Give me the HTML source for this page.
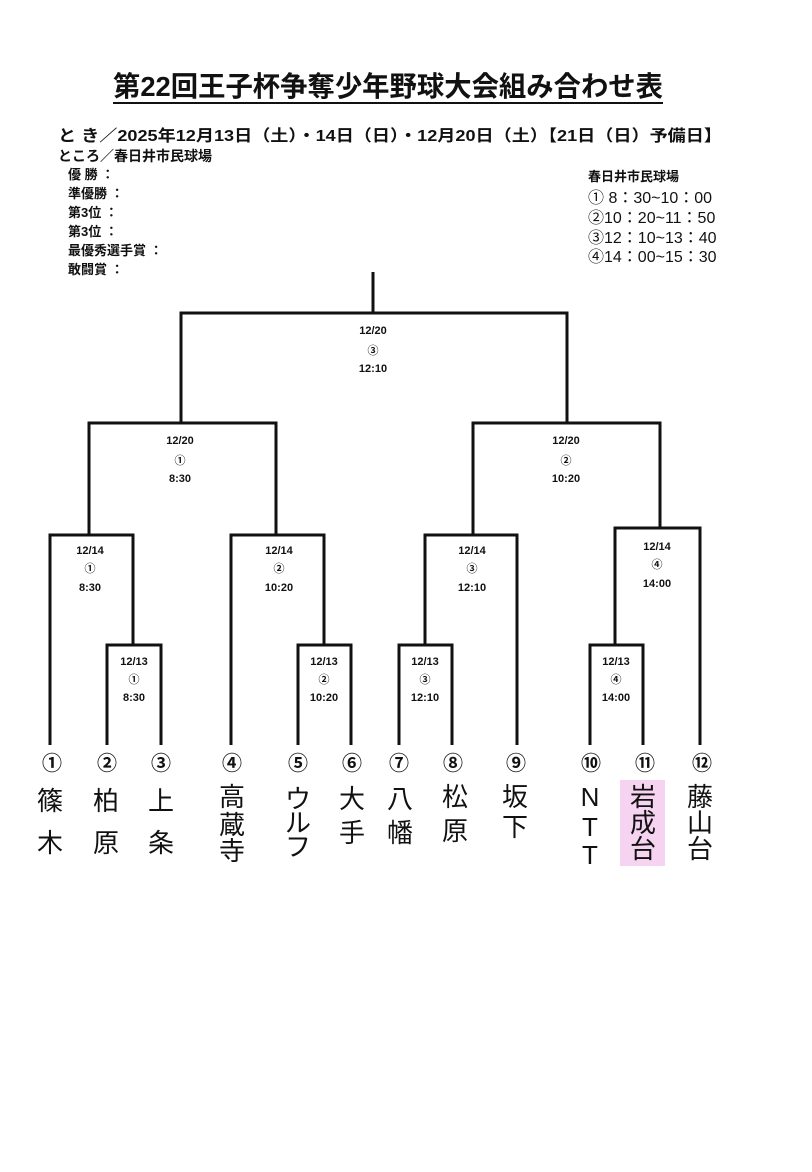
<!DOCTYPE html>
<html><head><meta charset="utf-8"><style>
html,body{margin:0;padding:0;background:#fff;}
svg{display:block}
text{font-family:"Liberation Sans","Noto Sans CJK JP",sans-serif;fill:#111}
.t{font-size:11px;font-weight:bold;text-anchor:middle}
.h{font-family:"Noto Sans CJK JP",sans-serif;font-size:26px;text-anchor:middle;fill:#333}
.n{font-size:20px;text-anchor:middle;font-weight:bold}
</style></head><body>
<svg width="812" height="1172" viewBox="0 0 812 1172" xmlns="http://www.w3.org/2000/svg">
<text x="388" y="96" font-size="28" text-anchor="middle" font-weight="bold" textLength="550" lengthAdjust="spacingAndGlyphs">第22回王子杯争奪少年野球大会組み合わせ表</text>
<line x1="113" y1="103" x2="663" y2="103" stroke="#111" stroke-width="2"/>
<text x="58" y="141" font-size="16" font-weight="bold" textLength="664" lengthAdjust="spacingAndGlyphs">と き／2025年12月13日（土）・14日（日）・12月20日（土）【21日（日）予備日】</text>
<text x="58" y="161" font-size="14" font-weight="bold">ところ／春日井市民球場</text>
<g font-size="13" font-weight="bold">
<text x="68" y="179">優 勝 ：</text>
<text x="68" y="198">準優勝 ：</text>
<text x="68" y="217">第3位 ：</text>
<text x="68" y="236">第3位 ：</text>
<text x="68" y="255">最優秀選手賞 ：</text>
<text x="68" y="274">敢闘賞 ：</text>
<text x="588" y="181">春日井市民球場</text>
</g>
<g font-size="16">
<text x="588" y="203">① 8：30~10：00</text>
<text x="588" y="223">②10：20~11：50</text>
<text x="588" y="243">③12：10~13：40</text>
<text x="588" y="262">④14：00~15：30</text>
</g>
<g stroke="#111" stroke-width="3" fill="none">
<path d="M373 272V313M181 423V313H567V423"/>
<path d="M89 535V423H276V535M473 535V423H660V528"/>
<path d="M50 745V535H133V645M107 745V645H161V745"/>
<path d="M231 745V535H324V645M298 745V645H351V745"/>
<path d="M425 645V535H517V745M399 745V645H452V745"/>
<path d="M615 645V528H700V745M590 745V645H643V745"/>
</g>
<g class="t">
<text x="373" y="334">12/20</text><text x="373" y="354">③</text><text x="373" y="372">12:10</text>
<text x="180" y="444">12/20</text><text x="180" y="464">①</text><text x="180" y="482">8:30</text>
<text x="566" y="444">12/20</text><text x="566" y="464">②</text><text x="566" y="482">10:20</text>
<text x="90" y="554">12/14</text><text x="90" y="572">①</text><text x="90" y="591">8:30</text>
<text x="279" y="554">12/14</text><text x="279" y="572">②</text><text x="279" y="591">10:20</text>
<text x="472" y="554">12/14</text><text x="472" y="572">③</text><text x="472" y="591">12:10</text>
<text x="657" y="550">12/14</text><text x="657" y="568">④</text><text x="657" y="587">14:00</text>
<text x="134" y="665">12/13</text><text x="134" y="683">①</text><text x="134" y="701">8:30</text>
<text x="324" y="665">12/13</text><text x="324" y="683">②</text><text x="324" y="701">10:20</text>
<text x="425" y="665">12/13</text><text x="425" y="683">③</text><text x="425" y="701">12:10</text>
<text x="616" y="665">12/13</text><text x="616" y="683">④</text><text x="616" y="701">14:00</text>
</g>
<g class="n">
<text x="52" y="770">①</text><text x="107" y="770">②</text><text x="161" y="770">③</text>
<text x="232" y="770">④</text><text x="298" y="770">⑤</text><text x="352" y="770">⑥</text>
<text x="399" y="770">⑦</text><text x="453" y="770">⑧</text><text x="516" y="770">⑨</text>
<text x="591" y="770">⑩</text><text x="645" y="770">⑪</text><text x="702" y="770">⑫</text>
</g>
<rect x="620" y="780" width="45" height="86" fill="#f6d3f0"/>
<g class="h">
<text x="50" y="810">篠</text><text x="50" y="852">木</text>
<text x="106" y="810">柏</text><text x="106" y="852">原</text>
<text x="161" y="810">上</text><text x="161" y="852">条</text>
<text x="232" y="806">高</text><text x="232" y="834">蔵</text><text x="232" y="860">寺</text>
<text x="298" y="808">ウ</text><text x="298" y="832">ル</text><text x="298" y="856">フ</text>
<text x="352" y="808">大</text><text x="352" y="842">手</text>
<text x="400" y="808">八</text><text x="400" y="842">幡</text>
<text x="455" y="806">松</text><text x="455" y="840">原</text>
<text x="515" y="806">坂</text><text x="515" y="836">下</text>
<text x="590" y="806">N</text><text x="590" y="836">T</text><text x="590" y="864">T</text>
<text x="643" y="806">岩</text><text x="643" y="832">成</text><text x="643" y="858">台</text>
<text x="700" y="806">藤</text><text x="700" y="832">山</text><text x="700" y="858">台</text>
</g>
</svg>
</body></html>
